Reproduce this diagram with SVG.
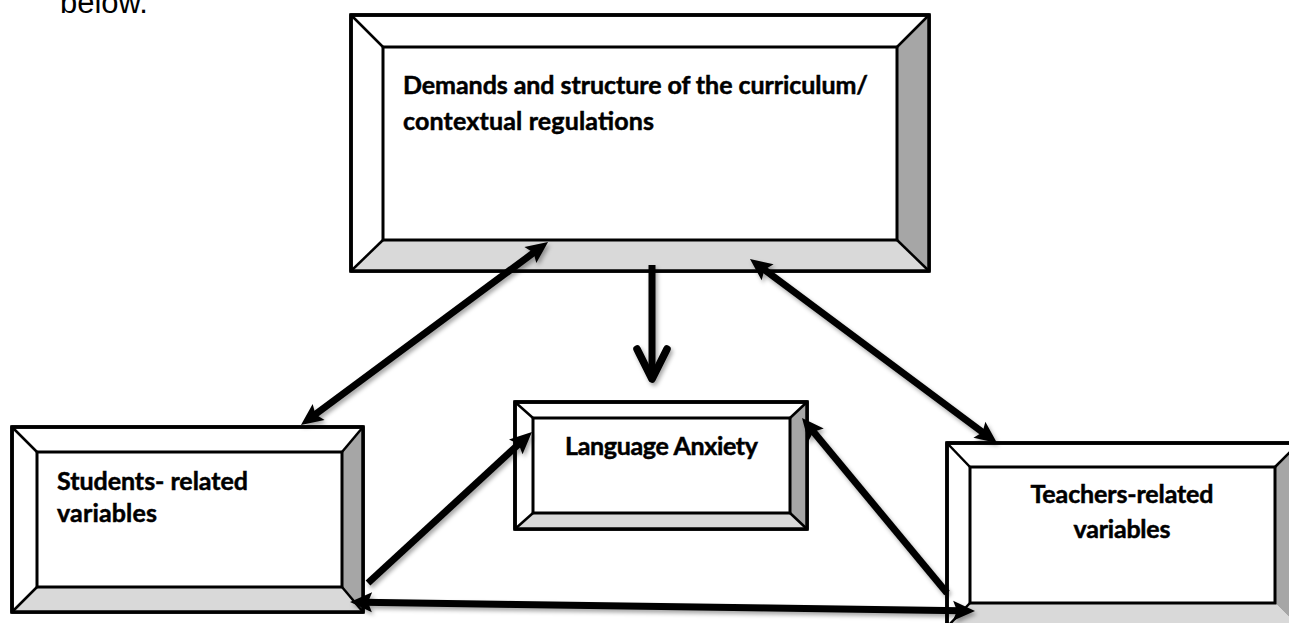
<svg xmlns="http://www.w3.org/2000/svg" width="1289" height="623" viewBox="0 0 1289 623">
<style>
.outer{fill:#ffffff;stroke:#000;stroke-width:3.5;stroke-linejoin:round}
.inner{fill:#ffffff;stroke:#000;stroke-width:3}
.rb{fill:#a6a6a6;stroke:none}
.bb{fill:#d9d9d9;stroke:none}
.diag{stroke:#000;stroke-width:2.5;fill:none}
.lbl{font-family:Lato,"Open Sans",sans-serif;font-weight:bold;font-size:25px;fill:#000;stroke:#000;stroke-width:0.5}
.body{font-family:"Liberation Sans",Arial,sans-serif;font-size:31px;fill:#000}
.conn{stroke:#000;stroke-width:7;fill:none}
</style>
<defs>
<filter id="sh" x="-20%" y="-20%" width="140%" height="140%">
<feDropShadow dx="2" dy="3" stdDeviation="2" flood-color="#000" flood-opacity="0.35"/>
</filter>
<marker id="head" markerUnits="userSpaceOnUse" markerWidth="26" markerHeight="22" refX="9" refY="10" orient="auto-start-reverse" overflow="visible">
<path d="M0,0 L22,10 L0,20 L4,10 Z" fill="#000"/>
</marker>
<marker id="open" markerUnits="userSpaceOnUse" markerWidth="40" markerHeight="40" refX="0" refY="0" orient="auto" overflow="visible">
<path d="M-30,-15 L0,0 L-30,15" fill="none" stroke="#000" stroke-width="7.5" stroke-linecap="round" stroke-linejoin="round"/>
</marker>
</defs>
<rect width="1289" height="623" fill="#fff"/>
<text class="body" x="60" y="13">below.</text>

<g id="curriculum">
<rect class="outer" x="351" y="15" width="578" height="256"/>
<polygon class="rb" points="897,47 929,15 929,271 897,240"/>
<polygon class="bb" points="383,240 897,240 929,271 351,271"/>
<line class="diag" x1="351" y1="15" x2="383" y2="47"/>
<line class="diag" x1="929" y1="15" x2="897" y2="47"/>
<line class="diag" x1="351" y1="271" x2="383" y2="240"/>
<line class="diag" x1="929" y1="271" x2="897" y2="240"/>
<rect class="inner" x="383" y="47" width="514" height="193"/>
<rect x="351" y="15" width="578" height="256" fill="none" stroke="#000" stroke-width="3.5"/>
<text class="lbl" x="403" y="94" textLength="465">Demands and structure of the curriculum/</text>
<text class="lbl" x="403" y="130" textLength="251">contextual regulations</text>
</g>

<g id="language-anxiety">
<rect class="outer" x="515" y="402" width="292" height="127"/>
<polygon class="rb" points="790,418 807,402 807,529 790,513"/>
<polygon class="bb" points="533,513 790,513 807,529 515,529"/>
<line class="diag" x1="515" y1="402" x2="533" y2="418"/>
<line class="diag" x1="807" y1="402" x2="790" y2="418"/>
<line class="diag" x1="515" y1="529" x2="533" y2="513"/>
<line class="diag" x1="807" y1="529" x2="790" y2="513"/>
<rect class="inner" x="533" y="418" width="257" height="95"/>
<rect x="515" y="402" width="292" height="127" fill="none" stroke="#000" stroke-width="3.5"/>
<text class="lbl" x="661.5" y="455" text-anchor="middle" textLength="193">Language Anxiety</text>
</g>

<g id="students">
<rect class="outer" x="12" y="427" width="351" height="185"/>
<polygon class="rb" points="342,452 363,427 363,612 342,587"/>
<polygon class="bb" points="37,587 342,587 363,612 12,612"/>
<line class="diag" x1="12" y1="427" x2="37" y2="452"/>
<line class="diag" x1="363" y1="427" x2="342" y2="452"/>
<line class="diag" x1="12" y1="612" x2="37" y2="587"/>
<line class="diag" x1="363" y1="612" x2="342" y2="587"/>
<rect class="inner" x="37" y="452" width="305" height="135"/>
<rect x="12" y="427" width="351" height="185" fill="none" stroke="#000" stroke-width="3.5"/>
<text class="lbl" x="57" y="490" textLength="191">Students- related</text>
<text class="lbl" x="57" y="522" textLength="100">variables</text>
</g>

<g id="teachers">
<rect class="outer" x="947" y="443" width="352" height="184"/>
<polygon class="rb" points="1275,467 1299,443 1299,627 1275,603"/>
<polygon class="bb" points="970,603 1275,603 1299,627 947,627"/>
<line class="diag" x1="947" y1="443" x2="970" y2="467"/>
<line class="diag" x1="1299" y1="443" x2="1275" y2="467"/>
<line class="diag" x1="947" y1="627" x2="970" y2="603"/>
<rect class="inner" x="970" y="467" width="305" height="136"/>
<rect x="947" y="443" width="352" height="184" fill="none" stroke="#000" stroke-width="3.5"/>
<text class="lbl" x="1122" y="503" text-anchor="middle" textLength="183">Teachers-related</text>
<text class="lbl" x="1122" y="538" text-anchor="middle" textLength="97">variables</text>
</g>

<g id="connectors" filter="url(#sh)">
<line class="conn" x1="311.4" y1="417.3" x2="537.6" y2="249.7" marker-start="url(#head)" marker-end="url(#head)"/>
<line class="conn" x1="760.4" y1="266.8" x2="986.6" y2="435.2" marker-start="url(#head)" marker-end="url(#head)"/>
<line class="conn" x1="652" y1="265" x2="652" y2="379" marker-end="url(#open)"/>
<line class="conn" x1="368" y1="583" x2="522.4" y2="440.8" marker-end="url(#head)"/>
<line class="conn" x1="947" y1="593" x2="810.3" y2="428" marker-end="url(#head)"/>
<line class="conn" x1="363" y1="602.2" x2="962" y2="610.8" marker-start="url(#head)" marker-end="url(#head)"/>
</g>
</svg>
